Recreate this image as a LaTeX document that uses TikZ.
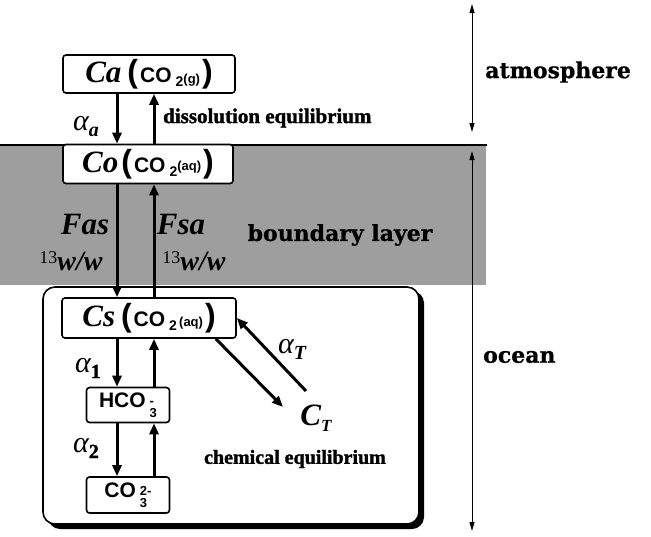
\documentclass[tikz,border=0pt]{standalone}
\usepackage{fontspec}
\setmainfont{Liberation Serif}[BoldFeatures={FakeBold=1.5}]
\newfontfamily\wideserif{DejaVu Serif}[BoldFeatures={FakeBold=0.8}]
\newfontfamily\chemsans{Liberation Sans}
\usetikzlibrary{arrows.meta}

\newcommand{\fsz}[1]{\fontsize{#1}{#1}\selectfont}
\newcommand{\sym}[1]{{\fsz{31}\bfseries\itshape #1}}
\newcommand{\bpar}[1]{{\chemsans\fsz{32}\bfseries #1}}
\newcommand{\cotwo}[2]{{\chemsans\bfseries\fsz{21}\hspace{2pt}CO\hspace{4pt}\raisebox{-4pt}{\fsz{14}2}\raisebox{#1}{\fsz{13}#2}\hspace{2pt}}}
\newcommand{\alf}[1]{{\fsz{30}\itshape α}\raisebox{-6pt}{\fsz{20}\bfseries #1}}
\newcommand{\ratio}{\raisebox{7pt}{\fsz{18}13}{\fsz{28}\bfseries\itshape w/w}}
\newcommand{\chg}[2]{\hspace{4pt}\raisebox{-10pt}{\fontsize{13}{19}\selectfont\shortstack[l]{#1\\#2}}}

\begin{document}
\begin{tikzpicture}[x=1pt,y=-1pt,
  box/.style={draw, line width=1.6pt, rounded corners=3pt, fill=white, inner sep=0pt},
  flux/.style={line width=3pt, -{Triangle[length=11pt,width=9pt]}},
  span/.style={line width=1pt, {Triangle[length=9pt,width=5pt]}-{Triangle[length=9pt,width=5pt]}},
  tag/.style={inner sep=0pt},
  region/.style={tag, font=\wideserif\bfseries\fsz{22}},
  eqlbl/.style={tag, font=\bfseries\fsz{21}}]
  \useasboundingbox (0,0) rectangle (651,536);
  % boundary layer
  \fill[black!38] (0,145) rectangle (486,285);
  \draw[line width=2.5pt] (0,145) -- (487,145);
  % ocean box
  \fill[rounded corners=12pt] (48,291) rectangle (424,529);
  \draw[line width=1.6pt, fill=white, rounded corners=12pt] (43,287) rectangle (419,524);
  % species
  \node[box, minimum width=172pt, minimum height=38pt] (ca) at (149,74)
    {\sym{Ca}\hspace{6pt}\bpar{(}\cotwo{-1pt}{(g)}\bpar{)}};
  \node[box, minimum width=170pt, minimum height=39pt] (co) at (148,164)
    {\sym{Co}\hspace{3pt}\bpar{(}\cotwo{2pt}{(aq)}\bpar{)}};
  \node[box, minimum width=174pt, minimum height=40pt] (cs) at (149,318)
    {\sym{Cs}\hspace{6pt}\bpar{(}\cotwo{0pt}{\,(aq)}\bpar{)}};
  \node[box, minimum width=83pt, minimum height=35pt] (hco) at (128,405)
    {\chemsans\bfseries\fsz{21}HCO\chg{-}{3}};
  \node[box, minimum width=83pt, minimum height=36pt] (cot) at (128,495)
    {\chemsans\bfseries\fsz{21}CO\chg{2-}{3}};
  \coordinate (dn) at (117,0);
  \coordinate (up) at (154,0);
  \coordinate (tin) at (283,407);
  \coordinate (tout) at (306,391);
  % fluxes
  \draw[flux] (ca.south -| dn) -- (co.north -| dn);
  \draw[flux] (co.north -| up) -- (ca.south -| up);
  \draw[flux] (co.south -| dn) -- (cs.north -| dn);
  \draw[flux] (cs.north -| up) -- (co.south -| up);
  \draw[flux] (cs.south -| dn) -- (hco.north -| dn);
  \draw[flux] (hco.north -| up) -- (cs.south -| up);
  \draw[flux] (hco.south -| dn) -- (cot.north -| dn);
  \draw[flux] (cot.north -| up) -- (hco.south -| up);
  \draw[flux] ([xshift=-21pt]cs.south east) -- (tin);
  \draw[flux] (tout) -- (cs.east);
  % labels
  \node[tag] (aa) at (86,127) {\alf{\itshape a}};
  \node[eqlbl, anchor=west] (dis) at (163,118) {dissolution equilibrium};
  \node[tag] (fas) at (85,225) {\sym{Fas}};
  \node[tag] (rla) at (71,261) {\ratio};
  \node[tag] (fsa) at (181,225) {\sym{Fsa}};
  \node[tag] (rlb) at (194,261) {\ratio};
  \node[region] (bl) at (340,235) {boundary layer};
  \node[tag] (a1) at (88,368) {\alf{1}};
  \node[tag] (a2) at (86,448) {\alf{2}};
  \node[tag] (aT) at (292,349) {\alf{\itshape T}};
  \node[tag] (ct) at (316,418) {\sym{C}\raisebox{-6pt}{\fsz{17}\bfseries\itshape T}};
  \node[eqlbl, font=\bfseries\fsz{20}] (chem) at (295,459) {chemical equilibrium};
  % vertical extent
  \coordinate (atop) at (472,4);
  \coordinate (abot) at (472,132);
  \coordinate (otop) at (472,151);
  \coordinate (obot) at (472,531);
  \draw[span] (atop) -- (abot);
  \draw[span] (otop) -- (obot);
  \node[region, anchor=west] (atm) at (485,72) {atmosphere};
  \node[region, anchor=west] (oc) at (483,357) {ocean};
\end{tikzpicture}
\end{document}
